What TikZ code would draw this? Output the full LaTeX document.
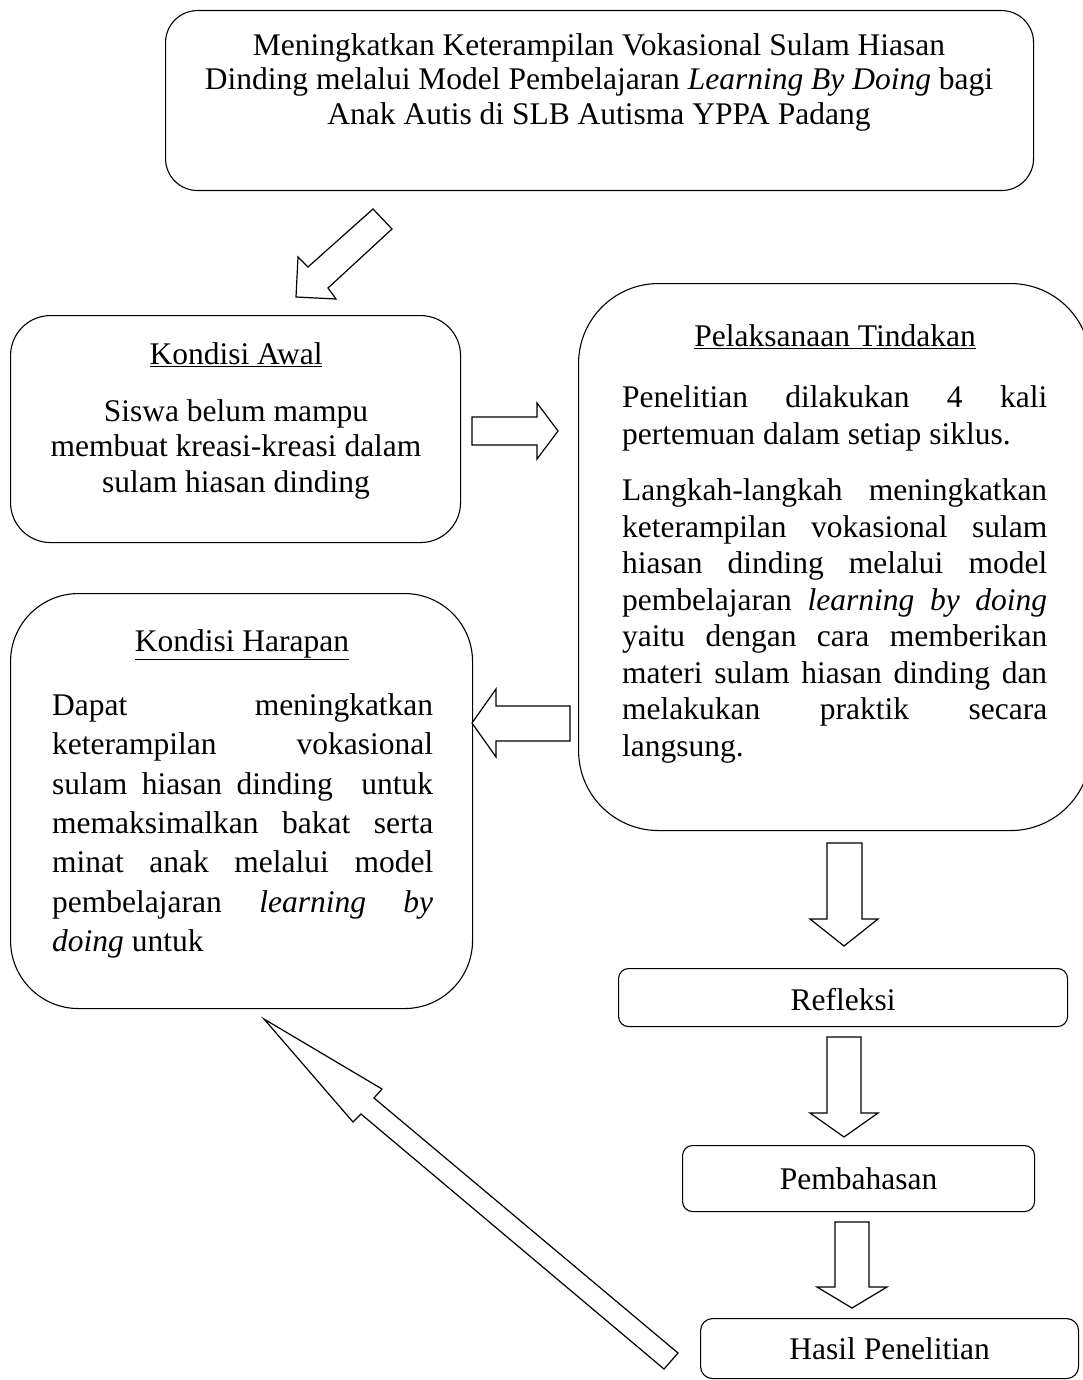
\documentclass[tikz,border=0pt]{standalone}
\usepackage{fontspec}
\setmainfont{Liberation Serif}
\newcommand\jline[2]{\leavevmode\hbox to #1{\spaceskip=\fontdimen2\font plus 1fil minus \fontdimen4\font\relax#2}}
\newcommand\natsp{\spaceskip=0pt\xspaceskip=0pt\relax}
\begin{document}
\begin{tikzpicture}[x=1pt,y=-1pt,
  box/.style={draw, line width=1.1pt, anchor=north west, inner sep=0pt},
  blk/.style={draw, line width=1.2pt, line join=miter, fill=white},
  txt/.style={font=\fontsize{31.5}{34.5}\selectfont, inner sep=0pt},
  para/.style={txt, align=left, anchor=north west, font=\fontsize{31.5}{36.5}\selectfont}]
\useasboundingbox (0,0) rectangle (1083,1380);
\clip (0,0) rectangle (1083,1380);
% boxes
\node[box, rounded corners=32pt, minimum width=868pt, minimum height=180pt] (top) at (165,10) {};
\node[box, rounded corners=40pt, minimum width=450pt, minimum height=227pt] (awal) at (10,315) {};
\node[box, rounded corners=80pt, minimum width=512pt, minimum height=547pt] (pel) at (578,283) {};
\node[box, rounded corners=68pt, minimum width=462pt, minimum height=415pt] (harap) at (10,593) {};
\node[box, rounded corners=10pt, minimum width=449pt, minimum height=58pt] (refl) at (618,968) {};
\node[box, rounded corners=10pt, minimum width=352pt, minimum height=66pt] (bahas) at (682,1145) {};
\node[box, rounded corners=12pt, minimum width=378pt, minimum height=60pt] (hasil) at (700,1318) {};
% texts
\node[txt, align=center] (ttop) at (599,82) {\natsp Meningkatkan Keterampilan Vokasional Sulam Hiasan\\ Dinding melalui Model Pembelajaran \textit{Learning By Doing} bagi\\ Anak Autis di SLB Autisma YPPA Padang};
\node[txt] (hawal) at (236,355) {\underline{Kondisi Awal}};
\node[txt, align=center, font=\fontsize{31.5}{35.5}\selectfont] (tawal) at (236,449) {\natsp Siswa belum mampu\\ membuat kreasi-kreasi dalam\\ sulam hiasan dinding};
\node[txt] (hpel) at (835,337) {\underline{Pelaksanaan Tindakan}};
\node[para, text width=425pt] (tpel) at (622,385.5) {\natsp\jline{425pt}{Penelitian dilakukan 4 kali}\\
pertemuan dalam setiap siklus.\\[20pt]
\jline{425pt}{Langkah-langkah meningkatkan}\\
\jline{425pt}{keterampilan vokasional sulam}\\
\jline{425pt}{hiasan dinding melalui model}\\
\jline{425pt}{pembelajaran \textit{learning by doing}}\\
\jline{425pt}{yaitu dengan cara memberikan}\\
\jline{425pt}{materi sulam hiasan dinding dan}\\
\jline{425pt}{melakukan praktik secara}\\
langsung.};
\node[txt] (hharap) at (242,645) {\underline{Kondisi Harapan}};
\node[para, text width=381pt, font=\fontsize{31.5}{39.3}\selectfont] (tharap) at (52,693.5) {\natsp\jline{381pt}{Dapat meningkatkan}\\
\jline{381pt}{keterampilan vokasional}\\
\jline{381pt}{sulam hiasan dinding\space\space untuk}\\
\jline{381pt}{memaksimalkan bakat serta}\\
\jline{381pt}{minat anak melalui model}\\
\jline{381pt}{pembelajaran \textit{learning by}}\\
\textit{doing} untuk};
\node[txt] (trefl) at ([yshift=-2pt]refl.center) {Refleksi};
\node[txt] (tbahas) at (bahas.center) {Pembahasan};
\node[txt] (thasil) at (hasil.center) {Hasil Penelitian};
% block arrows
\draw[blk] (373,209) -- (308,267) -- (298,257) -- (296,297) -- (336,299) -- (328,288) -- (392,229) -- cycle;
\draw[blk] (472,417) -- (537,417) -- (537,403) -- (558,431) -- (537,459) -- (537,445) -- (472,445) -- cycle;
\draw[blk] (570,706) -- (496,706) -- (496,689) -- (472,723) -- (496,757) -- (496,741) -- (570,741) -- cycle;
\draw[blk] (827,843) -- (862,843) -- (862,919) -- (878,919) -- (844,946) -- (810,919) -- (827,919) -- cycle;
\draw[blk] (827,1037) -- (861,1037) -- (861,1113) -- (878,1113) -- (844,1137) -- (810,1113) -- (827,1113) -- cycle;
\draw[blk] (835,1222) -- (869,1222) -- (869,1287) -- (887,1287) -- (852,1308) -- (817,1287) -- (835,1287) -- cycle;
\draw[blk] (264,1019) -- (382,1089) -- (374,1098) -- (678,1353) -- (664,1369) -- (361,1114) -- (353,1122) -- cycle;
\end{tikzpicture}
\end{document}
